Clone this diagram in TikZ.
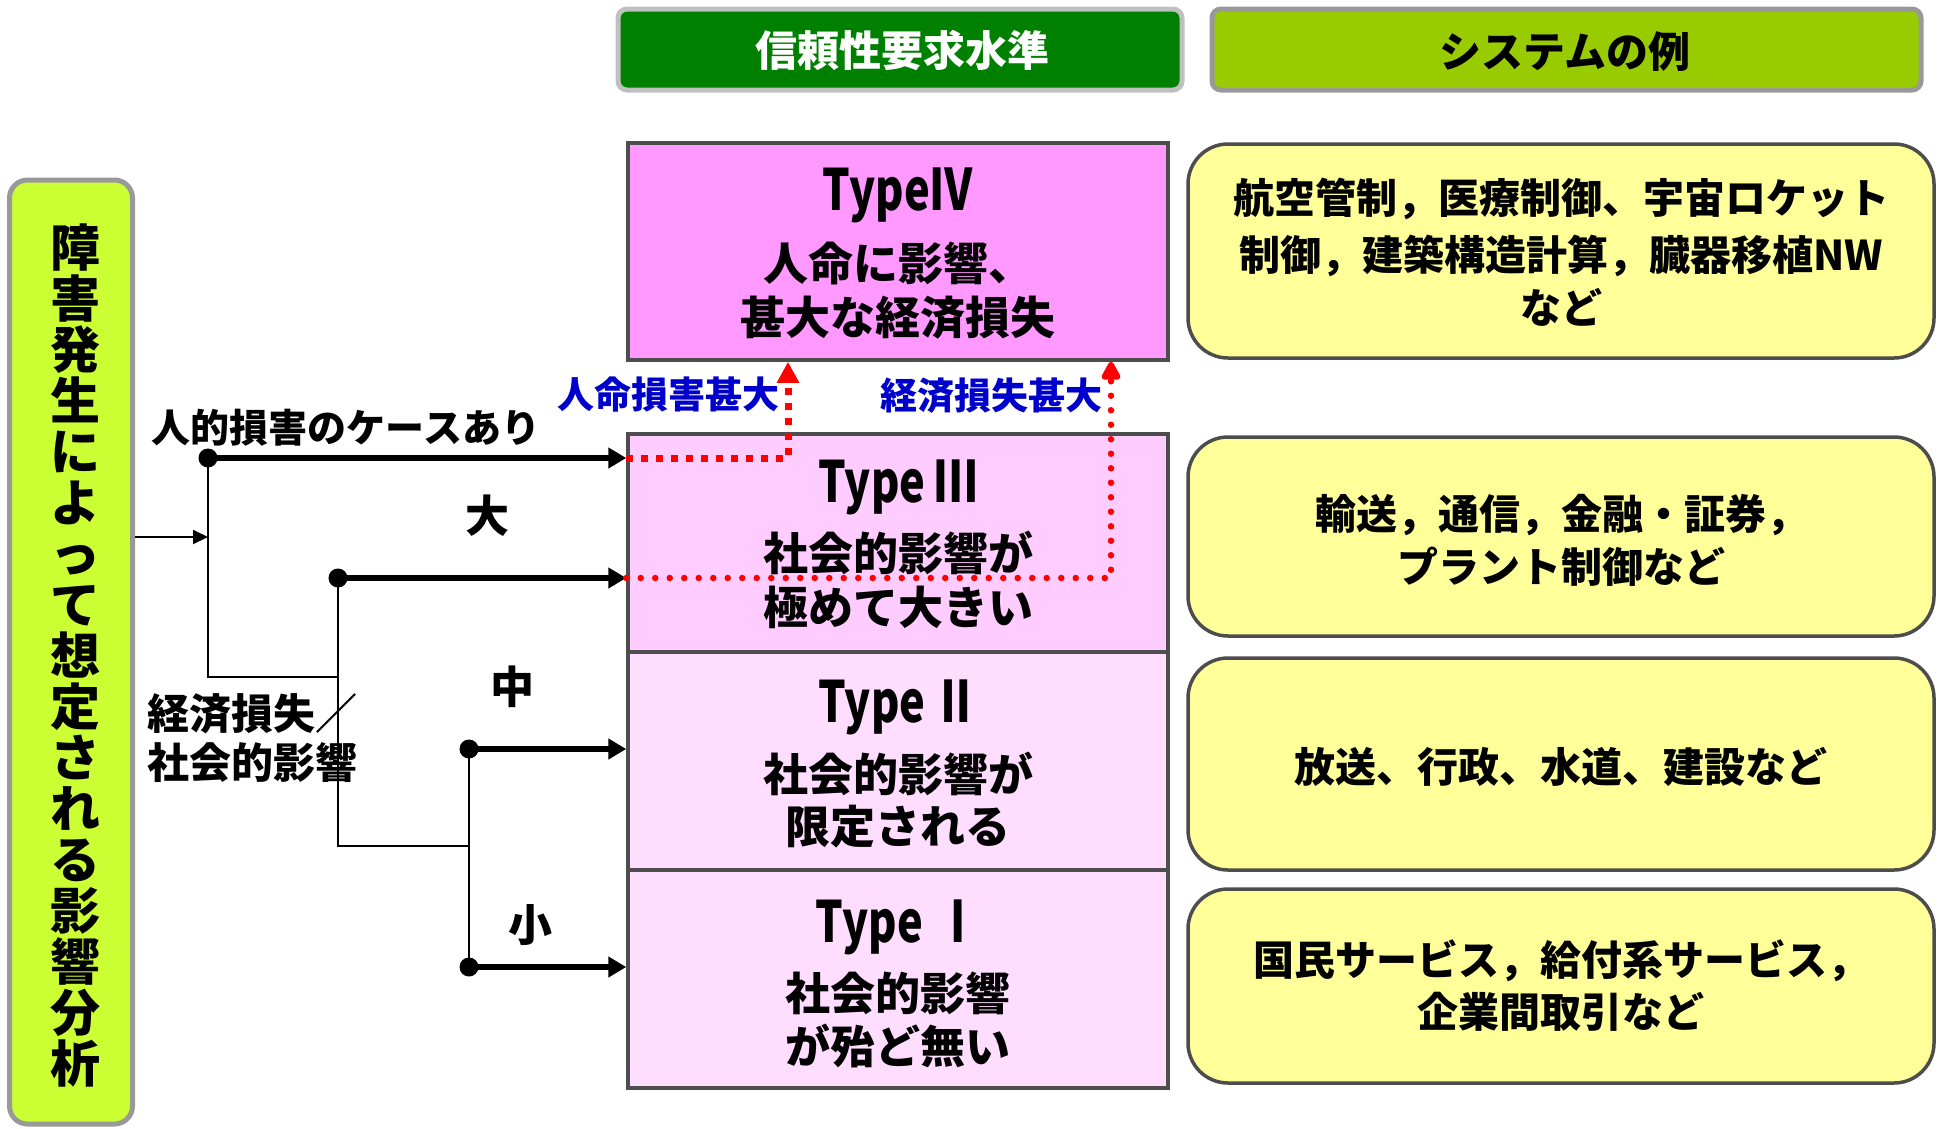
\documentclass[tikz,border=0pt]{standalone}
\usepackage{fontspec}
\setmainfont{Noto Sans CJK JP}[BoldFont={Noto Sans CJK JP Black}]
\newfontfamily\typefnt{Noto Sans CJK JP}[BoldFont={Noto Sans CJK JP Black},FakeStretch=0.76]
\usetikzlibrary{arrows.meta}
\newcommand\setfs[1]{\fontsize{#1pt}{#1pt}\selectfont}
\newcommand\setfsb[2]{\fontsize{#1pt}{#2pt}\selectfont\lineskiplimit=-60pt}
\definecolor{hgreen}{HTML}{008000}
\definecolor{hgreenbd}{HTML}{C0C0C0}
\definecolor{hyg}{HTML}{99CC00}
\definecolor{graybd}{HTML}{999999}
\definecolor{lime}{HTML}{CCFF33}
\definecolor{pfour}{HTML}{FF99FF}
\definecolor{pthree}{HTML}{FFCCFF}
\definecolor{plight}{HTML}{FFDDFF}
\definecolor{yel}{HTML}{FFFF99}
\definecolor{boxbd}{HTML}{4D4D4D}
\definecolor{bluelab}{HTML}{0000CC}
\begin{document}
\begin{tikzpicture}[x=1pt,y=-1pt,
  txt/.style={inner sep=0pt, font=\bfseries},
  typebox/.style={draw=boxbd, line width=3.5pt, minimum width=540pt, inner sep=0pt},
  exbox/.style={draw=boxbd, line width=3.5pt, fill=yel, rounded corners=40pt, minimum width=746pt, inner sep=0pt},
  headbox/.style={line width=5pt, rounded corners=9pt, minimum height=81pt, inner sep=0pt},
  thinline/.style={line width=2pt},
  thickarr/.style={line width=6pt, -{Triangle[length=18pt,width=20pt]}},
  dotnode/.style={circle, fill=black, minimum size=19pt, inner sep=0pt},
  redsq/.style={red, line width=7pt, dash pattern=on 7pt off 8pt, -{Triangle[length=21pt,width=21pt]}},
  redround/.style={red, line width=6.5pt, line cap=round, dash pattern=on 0pt off 14.5pt, -{Triangle[length=21pt,width=21pt,round=false]}},
  typefont/.style={font=\bfseries\typefnt\setfs{57}},
  jpfont/.style={font=\bfseries\setfs{45}},
  exfont/.style={font=\bfseries\setfs{41}},
  labfont/.style={font=\bfseries\setfs{40}}
]
\useasboundingbox (0,0) rectangle (1940,1128);

% headers
\node[headbox, draw=hgreenbd, fill=hgreen, minimum width=564pt] (h1) at (900,49.5) {};
\node[txt, text=white, font=\bfseries\setfs{42}] (h1t) at (902,50) {信頼性要求水準};
\node[headbox, draw=graybd, fill=hyg, minimum width=709pt] (h2) at (1566.5,49.5) {};
\node[txt, font=\bfseries\setfs{42}] (h2t) at (1565,52) {システムの例};

% left box
\node[draw=graybd, fill=lime, line width=5pt, rounded corners=18pt, minimum width=123pt, minimum height=944pt, inner sep=0pt] (lb) at (71,652) {};
\node[txt, align=center, font=\bfseries\setfsb{50}{51}] (lbt) at (75,655) {障\\害\\発\\生\\に\\よ\\っ\\て\\想\\定\\さ\\れ\\る\\影\\響\\分\\析};

% type boxes
\node[typebox, fill=pfour, minimum height=217pt] (t4) at (898,251.5) {};
\node[typebox, fill=pthree, minimum height=218pt] (t3) at (898,543) {};
\node[typebox, fill=plight, minimum height=218pt] (t2) at (898,761) {};
\node[typebox, fill=plight, minimum height=218pt] (t1) at (898,979) {};

\node[txt, typefont] (t4a) at (898,195) {TypeⅣ};
\node[txt, jpfont] (t4b) at (898,263) {人命に影響、};
\node[txt, jpfont] (t4c) at (898,318) {甚大な経済損失};
\node[txt, typefont] (t3a) at (898,487) {Type\hspace{9pt}Ⅲ};
\node[txt, jpfont] (t3b) at (898,553) {社会的影響が};
\node[txt, jpfont] (t3c) at (898,607) {極めて大きい};
\node[txt, typefont] (t2a) at (898,707) {Type\hspace{9pt}Ⅱ};
\node[txt, jpfont] (t2b) at (898,774) {社会的影響が};
\node[txt, jpfont] (t2c) at (898,827) {限定される};
\node[txt, typefont] (t1a) at (898,927) {Type\hspace{14pt}Ⅰ};
\node[txt, jpfont] (t1b) at (898,993) {社会的影響};
\node[txt, jpfont] (t1c) at (898,1046) {が殆ど無い};

% example boxes
\node[exbox, minimum height=214pt] (e4) at (1561,251) {};
\node[exbox, minimum height=199pt] (e3) at (1561,536.5) {};
\node[exbox, minimum height=212pt] (e2) at (1561,764) {};
\node[exbox, minimum height=194pt] (e1) at (1561,986) {};

\node[txt, exfont] (e4a) at (1561,199) {航空管制，医療制御、宇宙ロケット};
\node[txt, exfont] (e4b) at (1561,256) {制御，建築構造計算，臓器移植NW};
\node[txt, exfont] (e4c) at (1561,307) {など};
\node[txt, exfont] (e3a) at (1561,515) {輸送，通信，金融・証券，};
\node[txt, exfont] (e3b) at (1561,567) {プラント制御など};
\node[txt, exfont] (e2a) at (1561,767) {放送、行政、水道、建設など};
\node[txt, exfont] (e1a) at (1561,961) {国民サービス，給付系サービス，};
\node[txt, exfont] (e1b) at (1561,1012) {企業間取引など};

% tree connectors
\node[dotnode] (d1) at (208,458) {};
\node[dotnode] (d2) at (338,578) {};
\node[dotnode] (d3) at (469,749) {};
\node[dotnode] (d4) at (469,967) {};
\coordinate (j0) at (208,537);
\coordinate (c1) at (208,677);
\coordinate (c2) at (338,846);

\draw[thinline, -{Triangle[length=15pt,width=14pt]}] (lb.east |- j0) -- (j0);
\draw[thinline] (d1.center) -- (c1) -- (c1 -| d2.center);
\draw[thinline] (d2.center) -- (c2) -- (c2 -| d3.center);
\draw[thinline] (d3.center) -- (d4.center);

\draw[thickarr] (d1.center) -- (d1.center -| t3.west);
\draw[thickarr] (d2.center) -- (d2.center -| t3.west);
\draw[thickarr] (d3.center) -- (d3.center -| t2.west);
\draw[thickarr] (d4.center) -- (d4.center -| t1.west);

% labels
\node[txt, font=\bfseries\setfs{39}] (l1) at (346,428) {人的損害のケースあり};
\node[txt, font=\bfseries\setfs{44}] (l2) at (487,516) {大};
\node[txt, font=\bfseries\setfs{44}] (l3) at (512,687) {中};
\node[txt, font=\bfseries\setfs{44}] (l4) at (530,925) {小};
\node[txt, align=left, anchor=west, font=\bfseries\setfsb{42}{49}] (l5) at (147,738) {経済損失／\\社会的影響};

% red paths
\coordinate (r1) at (788,458);
\coordinate (r2) at (1111,578);
\draw[redsq] (d1.center -| t3.west) -- (r1) -- (r1 |- t4.south);
\draw[redround] (d2.center -| t3.west) -- (r2) -- (r2 |- t4.south);

\node[txt, text=bluelab, font=\bfseries\setfs{37}] (b1) at (668,395) {人命損害甚大};
\node[txt, text=bluelab, font=\bfseries\setfs{37}] (b2) at (991,396) {経済損失甚大};
\end{tikzpicture}
\end{document}
